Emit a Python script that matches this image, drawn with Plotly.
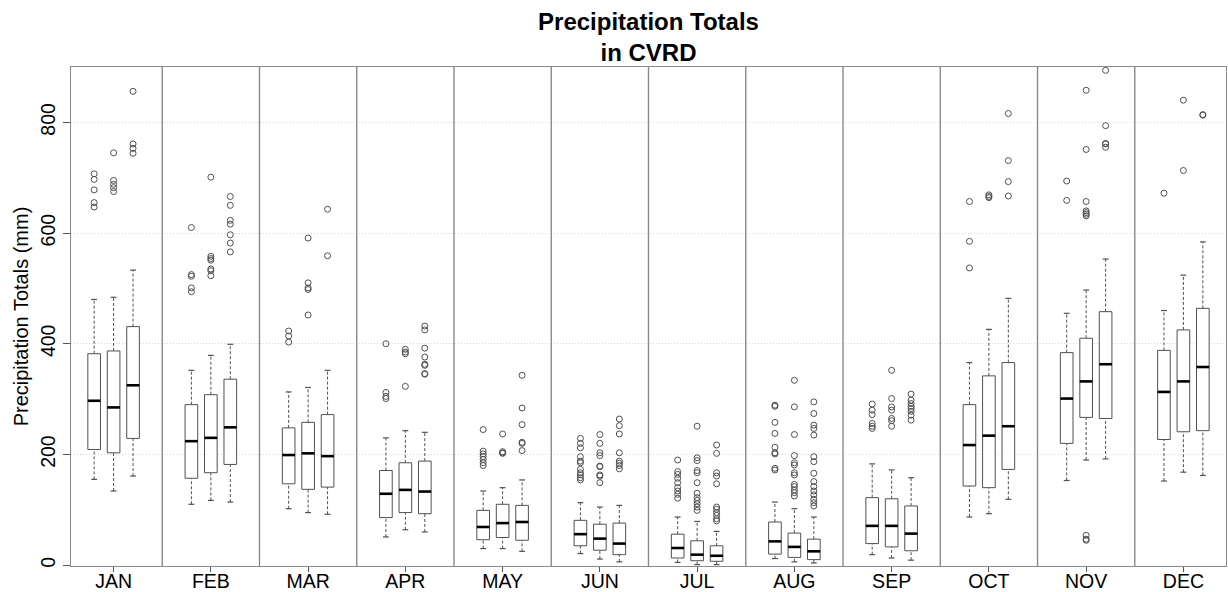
import plotly.graph_objects as go

months = ["JAN", "FEB", "MAR", "APR", "MAY", "JUN", "JUL", "AUG", "SEP", "OCT", "NOV", "DEC"]

# three boxes per month: lower whisker, lower hinge, median, upper hinge, upper whisker
lower = [[155, 134, 161], [110, 117, 114], [102, 95, 92], [51, 64, 60], [30, 30, 25], [21, 11, 6],
         [5, 1, 1], [12, 6, 4], [19, 13, 9], [87, 93, 119], [153, 190, 192], [152, 168, 162]]
q1 = [[209, 203, 229], [157, 167, 182], [147, 137, 141], [86, 95, 93], [46, 50, 45], [35, 27, 19],
      [13, 8, 7], [20, 14, 10], [39, 33, 26], [143, 140, 173], [220, 267, 265], [227, 241, 243]]
median = [[297, 285, 325], [224, 230, 249], [199, 202, 197], [129, 136, 133], [69, 76, 78], [56, 48, 39],
          [31, 19, 17], [43, 33, 25], [71, 71, 57], [217, 234, 251], [301, 332, 363], [313, 332, 358]]
q3 = [[382, 387, 431], [290, 308, 336], [248, 258, 272], [171, 185, 188], [99, 110, 108], [81, 74, 76],
      [56, 44, 35], [78, 58, 47], [122, 120, 107], [290, 342, 366], [384, 410, 458], [388, 425, 464]]
upper = [[480, 484, 533], [352, 379, 399], [313, 321, 352], [230, 243, 240], [134, 140, 154], [113, 105, 108],
         [87, 79, 61], [114, 102, 87], [183, 172, 158], [366, 426, 482], [455, 497, 553], [460, 524, 584]]

outliers = [
    [[707, 697, 678, 655, 647], [745, 695, 688, 682, 675], [856, 761, 753, 744]],
    [[610, 525, 522, 501, 494], [701, 558, 554, 551, 535, 532, 523], [666, 650, 623, 616, 597, 582, 566]],
    [[423, 414, 403], [591, 510, 501, 498, 452], [643, 559]],
    [[400, 312, 305, 301], [390, 385, 382, 323], [432, 425, 392, 376, 363, 361, 346, 345]],
    [[245, 206, 201, 196, 191, 185, 180], [237, 205, 203, 202], [343, 284, 254, 222, 220, 207]],
    [[229, 220, 212, 196, 188, 185, 173, 167, 163, 158, 154], [236, 220, 203, 198, 179, 178, 163, 161, 149],
     [264, 252, 237, 203, 188, 184, 180, 174]],
    [[190, 169, 164, 157, 149, 140, 134, 128, 121], [251, 194, 189, 171, 167, 149, 130, 122, 117, 111, 105, 99],
     [217, 202, 167, 161, 147, 105, 101, 95, 90, 84, 80]],
    [[289, 287, 258, 238, 213, 203, 201, 175, 172],
     [334, 286, 236, 198, 185, 181, 167, 163, 146, 142, 136, 131, 125],
     [295, 274, 253, 247, 235, 196, 187, 166, 151, 142, 134, 127, 119, 113, 107]],
    [[291, 280, 272, 256, 251, 247], [352, 301, 286, 280, 265, 261, 251], [309, 298, 292, 287, 283, 278, 271, 262]],
    [[657, 585, 537], [669, 666, 664], [816, 731, 693, 667]],
    [[694, 659], [858, 751, 657, 640, 637, 634, 631, 54, 47, 45], [894, 794, 762, 761, 755]],
    [[672], [840, 713], [814, 813]],
]

yticks = [0, 200, 400, 600, 800]

# ---- layout positions (box slots) ----
BOX_W = 0.65
CAP_W = 0.3
centers = [5 * m + 3 for m in range(12)]
xs, L, Q1, M, Q3, U = [], [], [], [], [], []
for m in range(12):
    for k in range(3):
        xs.append(centers[m] + (k - 1))
        L.append(lower[m][k]); Q1.append(q1[m][k]); M.append(median[m][k])
        Q3.append(q3[m][k]); U.append(upper[m][k])

BOX_COL = "#505050"
fig = go.Figure()

# dashed whiskers
wx, wy = [], []
for x, lo, a, b, hi in zip(xs, L, Q1, Q3, U):
    wx += [x, x, None, x, x, None]
    wy += [lo, a, None, b, hi, None]
fig.add_trace(go.Scatter(x=wx, y=wy, mode="lines", line=dict(color=BOX_COL, width=1, dash="3px,2px"),
                         hoverinfo="skip"))
# whisker caps
cx, cy = [], []
for x, lo, hi in zip(xs, L, U):
    cx += [x - CAP_W / 2, x + CAP_W / 2, None, x - CAP_W / 2, x + CAP_W / 2, None]
    cy += [lo, lo, None, hi, hi, None]
fig.add_trace(go.Scatter(x=cx, y=cy, mode="lines", line=dict(color=BOX_COL, width=1.2), hoverinfo="skip"))

# box bodies
fig.add_trace(go.Box(x=xs, q1=Q1, median=M, q3=Q3, lowerfence=Q1, upperfence=Q3,
                     width=BOX_W, whiskerwidth=0, fillcolor="white",
                     line=dict(color=BOX_COL, width=1), hoverinfo="skip"))

# thick medians
mx, my = [], []
for x, v in zip(xs, M):
    mx += [x - BOX_W / 2, x + BOX_W / 2, None]
    my += [v, v, None]
fig.add_trace(go.Scatter(x=mx, y=my, mode="lines", line=dict(color="black", width=2.6), hoverinfo="skip"))

# outliers
ox, oy = [], []
for m in range(12):
    for k in range(3):
        for v in outliers[m][k]:
            ox.append(centers[m] + (k - 1))
            oy.append(v)
fig.add_trace(go.Scatter(x=ox, y=oy, mode="markers",
                         marker=dict(symbol="circle-open", size=6, color=BOX_COL, line=dict(width=1)),
                         hoverinfo="skip"))

# month separators
for m in range(1, 12):
    sx = 5 * m + 0.5
    fig.add_shape(type="line", xref="x", yref="paper", x0=sx, x1=sx, y0=0, y1=1,
                  line=dict(color="#8a8a8a", width=1.4), layer="above")

FONT = "Liberation Sans, Arial, Helvetica, sans-serif"
fig.update_layout(
    width=1228, height=592,
    margin=dict(l=71, r=2, t=67, b=26, autoexpand=False),
    paper_bgcolor="white", plot_bgcolor="white",
    showlegend=False,
    font=dict(family=FONT, color="black", size=19),
    title=dict(text="<b>Precipitation Totals<br>in CVRD</b>", x=0.5, xref="paper", xanchor="center",
               y=0.95, yref="container", yanchor="top",
               font=dict(family=FONT, size=24, color="black")),
    xaxis=dict(range=[0.81, 60.19], tickvals=centers, ticktext=months, ticks="outside", ticklen=5,
               tickcolor="#555", showgrid=False, zeroline=False, showline=True, mirror=True,
               linecolor="#8a8a8a", linewidth=1.4, ticklabelstandoff=-8, automargin=False,
               tickfont=dict(size=19.5, family=FONT, color="black")),
    yaxis=dict(range=[-1.5, 900], tickvals=yticks, ticktext=[str(v) for v in yticks], tickangle=-90,
               ticks="outside", ticklen=7, tickcolor="#555", showgrid=True, gridcolor="#d6d6d6",
               griddash="1px,2px", gridwidth=1, zeroline=False, showline=True, mirror=True,
               linecolor="#8a8a8a", linewidth=1.4, automargin=False,
               tickfont=dict(size=19.5, family=FONT, color="black"),
               title=dict(text="Precipitation Totals (mm)", standoff=3,
                          font=dict(size=20, family=FONT, color="black"))),
)

fig.write_html("out.html", config={"displayModeBar": False},
               post_script="document.body.style.margin='0';document.body.style.overflow='hidden';")
